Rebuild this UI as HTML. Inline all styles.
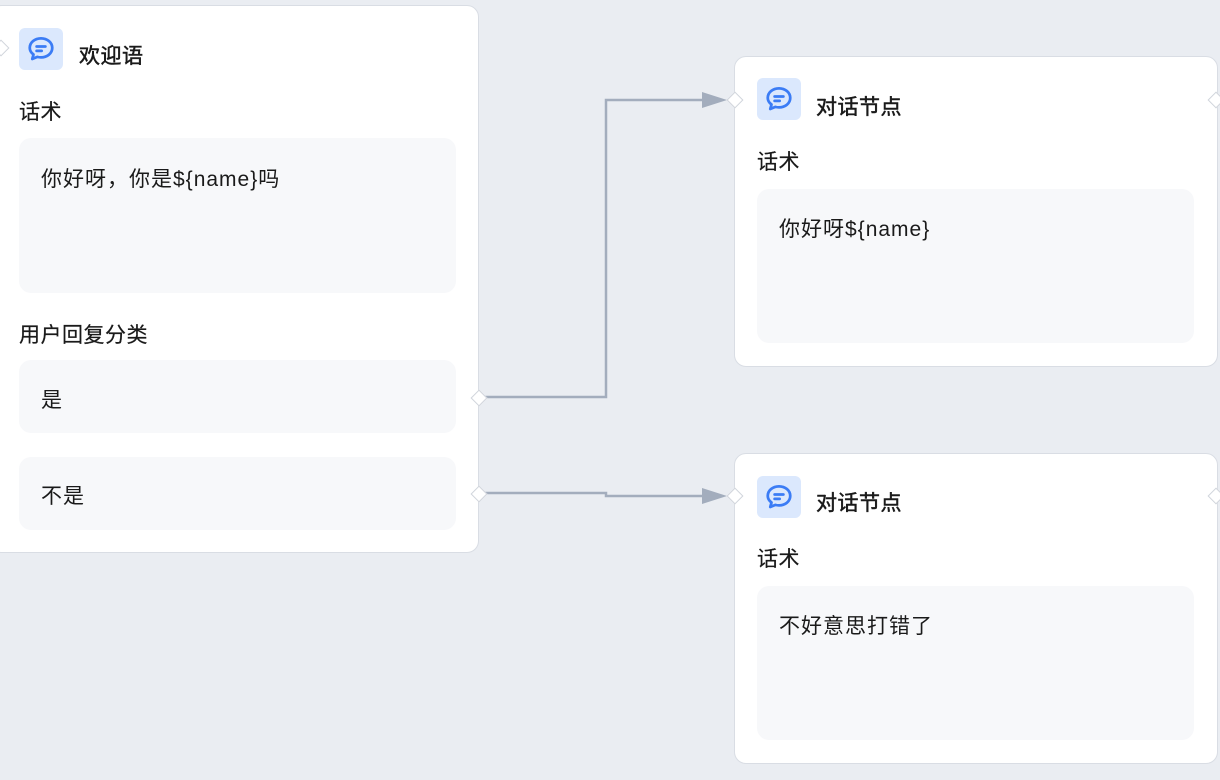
<!DOCTYPE html>
<html><head><meta charset="utf-8"><style>
body{margin:0;width:1220px;height:780px;background:#eaedf2;position:relative;overflow:hidden;font-family:"Liberation Sans","Noto Sans CJK SC",sans-serif;color:#1a1a1a}
.card{position:absolute;background:#fff;border:1.5px solid #d9dde4;border-radius:12px;box-sizing:border-box}
.ic{position:absolute;width:44px;height:42px;background:#dbe8fd;border-radius:6px}
.t{position:absolute;font-size:21px;font-weight:normal;-webkit-text-stroke:0.5px #1a1a1a;line-height:22px;letter-spacing:0.5px}
.l{position:absolute;font-size:21px;line-height:22px;-webkit-text-stroke:0.2px #1a1a1a;letter-spacing:0.5px}
.box{position:absolute;background:#f7f8fa;border-radius:12px;box-sizing:border-box;padding:28px 22px;font-size:21px;line-height:22px;letter-spacing:1px}
.port{position:absolute;width:10px;height:10px;background:#fff;border:1px solid #d0d4db;transform:rotate(45deg)}
</style></head><body>
<svg width="0" height="0" style="position:absolute"><defs><symbol id="chat" viewBox="0 0 24 24"><path d="M12 3.5c5 0 9 3.3 9 7.6s-4 7.6-9 7.6c-1 0-2-.1-2.9-.4L5 20l1-3.6C4.100 15 3 13.2 3 11.1 3 6.8 7 3.5 12 3.5z" fill="none" stroke="#3b7cf5" stroke-width="2.2" stroke-linejoin="round"/><path d="M8.5 10h7M8.5 13.5h4" stroke="#3b7cf5" stroke-width="2.2" stroke-linecap="round"/></symbol></defs></svg>

<svg style="position:absolute;left:0;top:0" width="1220" height="780">
<polyline points="478,397 606,397 606,100 708,100" fill="none" stroke="#a3adbd" stroke-width="2.5"/>
<polygon points="702,92 727,100 702,108" fill="#a3adbd"/>
<polyline points="478,493 606,493 606,496 708,496" fill="none" stroke="#a3adbd" stroke-width="2.5"/>
<polygon points="702,488 727,496 702,504" fill="#a3adbd"/>
</svg>

<div class="card" style="left:-10px;top:5px;width:489px;height:548px"></div>
<div class="ic" style="left:19px;top:28px"><svg width="44" height="42"><use href="#chat" x="7" y="6" width="30" height="30"/></svg></div>
<div class="t" style="left:79px;top:46px">欢迎语</div>
<div class="l" style="left:19px;top:102px">话术</div>
<div class="box" style="left:19px;top:138px;width:437px;height:155px;padding-top:31px">你好呀，你是${name}吗</div>
<div class="l" style="left:19px;top:325px">用户回复分类</div>
<div class="box" style="left:19px;top:360px;width:437px;height:73px;padding-top:30px">是</div>
<div class="box" style="left:19px;top:457px;width:437px;height:73px;padding-top:29px">不是</div>
<div class="port" style="left:-5px;top:42px"></div>
<div class="port" style="left:473px;top:392px"></div>
<div class="port" style="left:473px;top:488px"></div>

<div class="card" style="left:734px;top:56px;width:484px;height:311px"></div>
<div class="ic" style="left:757px;top:78px"><svg width="44" height="42"><use href="#chat" x="7" y="6" width="30" height="30"/></svg></div>
<div class="t" style="left:816px;top:97px">对话节点</div>
<div class="l" style="left:757px;top:152px">话术</div>
<div class="box" style="left:757px;top:189px;width:437px;height:154px;padding-top:30px">你好呀${name}</div>
<div class="port" style="left:729px;top:94px"></div>
<div class="port" style="left:1210px;top:94px"></div>

<div class="card" style="left:734px;top:453px;width:484px;height:311px"></div>
<div class="ic" style="left:757px;top:476px"><svg width="44" height="42"><use href="#chat" x="7" y="6" width="30" height="30"/></svg></div>
<div class="t" style="left:816px;top:493px">对话节点</div>
<div class="l" style="left:757px;top:549px">话术</div>
<div class="box" style="left:757px;top:586px;width:437px;height:154px;padding-top:30px">不好意思打错了</div>
<div class="port" style="left:729px;top:490px"></div>
<div class="port" style="left:1210px;top:490px"></div>
</body></html>
